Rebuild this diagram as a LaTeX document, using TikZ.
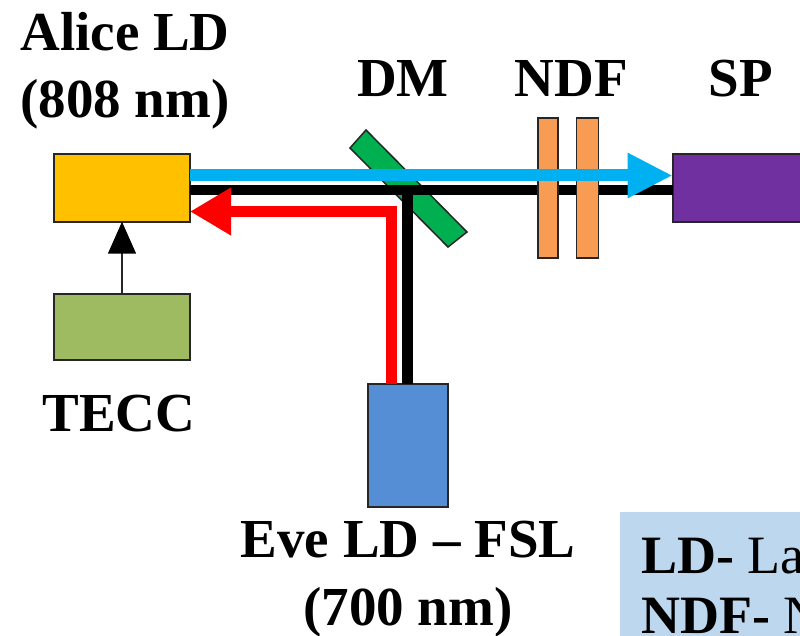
\documentclass[tikz,border=0pt]{standalone}
\usepackage{fontspec}
\setmainfont{Liberation Serif}
\usetikzlibrary{arrows.meta}
\definecolor{cAlice}{HTML}{FFC000}
\definecolor{cTecc}{HTML}{9FBB62}
\definecolor{cDm}{HTML}{00B050}
\definecolor{cBeam}{HTML}{00B0F0}
\definecolor{cNdf}{HTML}{F79C52}
\definecolor{cSp}{HTML}{7030A0}
\definecolor{cEve}{HTML}{558ED5}
\definecolor{cLegend}{HTML}{BDD7EE}
\tikzset{
  x=1pt,y=-1pt,
  part/.style={draw=black!85,line width=1.9pt,inner sep=0pt,outer sep=0pt,minimum width=#1},
  label text/.style={font=\fontsize{55}{55}\selectfont\bfseries,anchor=base,inner sep=0pt},
  legend text/.style={font=\fontsize{54}{54}\selectfont,anchor=base west,inner sep=0pt},
  bar/.style={line width=10.5pt,black},
  beam/.style={line width=12pt,cBeam,-{Triangle[length=45pt,width=42pt]}},
  back/.style={line width=11pt,red,-{Triangle[length=41pt,width=45pt]},line join=miter},
}
\begin{document}
\begin{tikzpicture}
\useasboundingbox (0,0) rectangle (800,636);
\clip (0,0) rectangle (800,636);
% legend
\node[fill=cLegend,inner sep=0pt,outer sep=0pt,minimum width=190pt,minimum height=134pt,anchor=north west] (legend) at (620,512) {};
\node[legend text] (legendA) at (641,573) {\textbf{LD-} La};
\node[legend text] (legendB) at (641,633) {\textbf{NDF-} N};
% components
\node[part=136pt,fill=cAlice,minimum height=67.5pt] (alice) at (122,188) {};
\node[part=136pt,fill=cTecc,minimum height=66pt] (tecc) at (122,327.2) {};
\node[part=79.5pt,fill=cEve,minimum height=122.5pt] (eve) at (408,445.5) {};
\node[part=140pt,fill=cSp,minimum height=67.5pt,anchor=west] (sp) at (672.7,188) {};
\draw[draw=black!85,line width=1.5pt,fill=cDm] (366,130) -- (350,148) -- (448,247) -- (467,232) -- cycle;
% reference points on the beams
\coordinate (blackL) at (alice.east |- 0,190);
\coordinate (blackR) at (sp.west |- 0,190);
\coordinate (blueL) at (alice.east |- 0,175.5);
\coordinate (blueR) at (sp.west |- 0,175.5);
\coordinate (dmJoin) at (407.5,190);
\coordinate (redCorner) at (391.5,211.5);
\coordinate (redTip) at (alice.east |- 0,211.5);
\coordinate (redStart) at (391.5,384);
\coordinate (eveTop) at (407.5,384);
% black beams
\draw[bar] (blackL) -- (blackR);
\draw[bar] (dmJoin) -- (eveTop);
% filters
\node[part=20pt,fill=cNdf,minimum height=139.5pt] (ndfA) at (548.3,188) {};
\node[part=22pt,fill=cNdf,minimum height=139.5pt] (ndfB) at (587.5,188) {};
% coloured beams
\draw[beam] (blueL) -- (blueR);
\draw[back] (redStart) -- (redCorner) -- (redTip);
\draw[line width=1.6pt,black!85,-{Triangle[length=32pt,width=28pt,color=black,fill=black]}] (tecc.north) -- (alice.south);
% labels
\node[label text] (lAlice) at (125,51) {Alice LD};
\node[label text] (lWave) at (125,118) {(808 nm)};
\node[label text] (lDm) at (403,97) {DM};
\node[label text] (lNdf) at (571.5,97) {NDF};
\node[label text] (lSp) at (741,97) {SP};
\node[label text] (lTecc) at (119,431) {TECC};
\node[label text] (lEve) at (408,557.5) {Eve LD – FSL};
\node[label text] (lEveW) at (408,625) {(700 nm)};
\end{tikzpicture}
\end{document}
